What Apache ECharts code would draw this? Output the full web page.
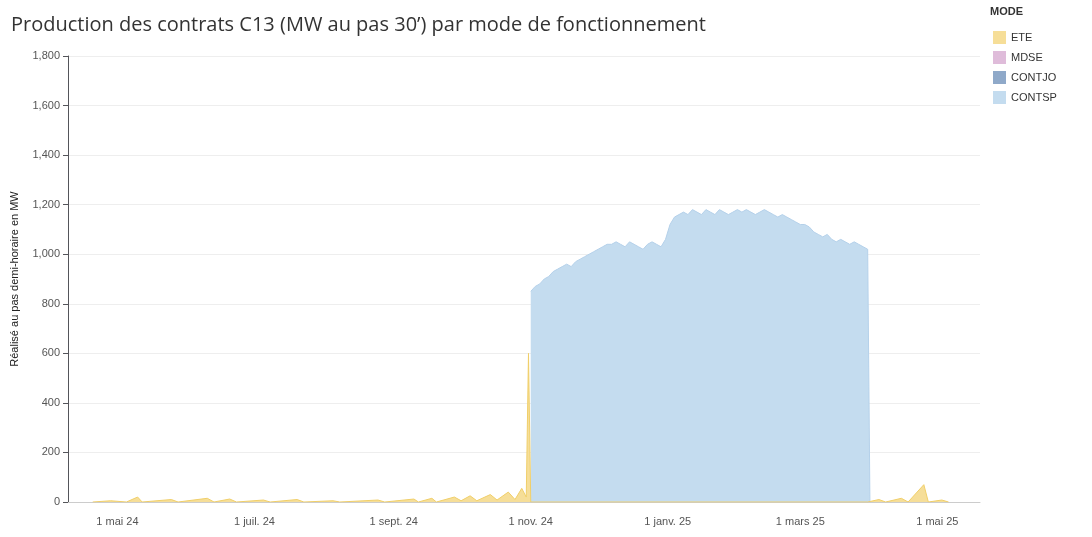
<!DOCTYPE html>
<html><head><meta charset="utf-8">
<script src="https://cdn.jsdelivr.net/npm/echarts@6/dist/echarts.min.js"></script>
<style>html,body{margin:0;background:#fff}#main{width:1092px;height:537px}</style>
</head><body><div id="main"></div>
<script>
// valeurs lues tous les 2 jours, du 1 nov. 24 au 31 mars 25
var startDay = '2024-11-01';
var contsp = [850,870,880,900,910,930,940,950,960,950,970,980,990,1000,1010,
  1020,1030,1040,1040,1050,1040,1030,1050,1040,1030,1020,1040,1050,1040,1030,1060,
  1120,1150,1160,1170,1160,1180,1170,1160,1180,1170,1160,1180,1170,1160,1170,1180,
  1170,1180,1170,1160,1170,1180,1170,1160,1150,1160,1150,1140,1130,1120,
  1120,1110,1090,1080,1070,1080,1060,1050,1060,1050,1040,1050,1040,1030,1020];
var contjo = [20,25,20,30,25,30,35,30,40,35,40,45,50,40,45,
  60,70,80,60,70,90,80,70,60,50,40,30,30,40,30,30,
  40,40,50,40,50,40,40,50,40,50,40,50,40,40,50,40,
  40,50,40,50,40,40,50,40,40,50,40,40,50,40,
  40,40,50,40,40,50,40,40,50,40,40,50,40,40,50];
var mdse = [40,50,45,60,50,60,55,60,70,60,70,75,80,70,70,
  80,90,80,100,90,80,190,650,620,70,60,40,30,40,30,50,
  60,70,60,80,70,80,70,60,80,70,60,70,80,70,60,70,
  60,70,60,80,70,60,70,60,70,60,70,60,70,60,
  60,70,60,70,60,70,60,70,60,70,60,70,60,70,60];
var ete = [['2024-04-20',0],['2024-04-28',5],['2024-05-05',0],['2024-05-10',20],['2024-05-12',0],
  ['2024-05-25',10],['2024-05-28',0],['2024-06-10',15],['2024-06-13',0],['2024-06-20',12],['2024-06-23',0],
  ['2024-07-05',8],['2024-07-08',0],['2024-07-20',10],['2024-07-23',0],['2024-08-05',5],['2024-08-08',0],
  ['2024-08-25',8],['2024-08-28',0],['2024-09-10',12],['2024-09-12',0],['2024-09-18',15],['2024-09-20',0],
  ['2024-09-28',20],['2024-10-01',5],['2024-10-05',25],['2024-10-08',5],['2024-10-14',30],['2024-10-17',8],
  ['2024-10-22',40],['2024-10-25',10],['2024-10-28',55],['2024-10-30',20],['2024-10-31',600],['2024-11-01',0],
  ['2025-03-31',0],['2025-04-05',10],['2025-04-08',0],['2025-04-15',15],['2025-04-18',0],
  ['2025-04-25',70],['2025-04-27',0],['2025-05-03',8],['2025-05-06',0]];
var tickDays = ['2024-05-01','2024-07-01','2024-09-01','2024-11-01','2025-01-01','2025-03-01','2025-05-01'];
var monthNames = ['janv.','févr.','mars','avr.','mai','juin','juil.','août','sept.','oct.','nov.','déc.'];

function ts(d){return new Date(d).getTime();}
var t0 = ts(startDay), DAY = 86400000;
function pairs(arr){
  var out = arr.map(function(v,i){return [t0 + i*2*DAY, v];});
  out.push([t0 + 151*DAY, 0]);
  return out;
}
var eteData = ete.map(function(p){return [ts(p[0]), p[1]];});
var tickTs = tickDays.map(ts);

var chart = echarts.init(document.getElementById('main'));
function area(name, data, color, line){
  return {name:name, type:'line', stack:'a', data:pairs(data), symbol:'none',
    lineStyle:{width:1, color:line}, itemStyle:{color:color},
    areaStyle:{color:color, opacity:1}};
}
chart.setOption({
  animation:false,
  title:{text:'Production des contrats C13 (MW au pas 30’) par mode de fonctionnement', left:6, top:10,
    textStyle:{fontSize:20, fontWeight:'normal', color:'#333', fontFamily:'Open Sans'}},
  legend:{orient:'vertical', left:988, top:26, itemWidth:13, itemHeight:13, icon:'rect', itemGap:7,
    data:['ETE','MDSE','CONTJO','CONTSP'], textStyle:{fontSize:11, color:'#333'}},
  graphic:[{type:'text', left:990, top:6, style:{text:'MODE', fontSize:11, fontWeight:'bold', fill:'#333'}}],
  grid:{left:68, right:112, top:56, bottom:35},
  xAxis:{type:'value', min:ts('2024-04-09'), max:ts('2025-05-20'),
    axisLine:{lineStyle:{color:'#ccc'}}, axisTick:{show:false}, splitLine:{show:false},
    axisLabel:{customValues:tickTs, color:'#555', fontSize:11, margin:14,
      formatter:function(v){var d=new Date(v);return '1 '+monthNames[d.getMonth()]+' '+String(d.getFullYear()).slice(2);}}},
  yAxis:{type:'value', min:0, max:1800, interval:200, name:'Réalisé au pas demi-horaire en MW',
    nameLocation:'middle', nameGap:48, nameTextStyle:{fontSize:11, color:'#222'},
    axisLabel:{color:'#555', fontSize:11}, splitLine:{lineStyle:{color:'#eee'}}},
  series:[
    area('CONTSP', contsp, '#c4dcef', '#b5d1ea'),
    area('CONTJO', contjo, '#8fa9c9', '#5f82ad'),
    area('MDSE', mdse, '#dfbcda', '#c59bc5'),
    {name:'ETE', type:'line', data:eteData, symbol:'none', lineStyle:{width:1,color:'#f0cf6a'},
     itemStyle:{color:'#f6de98'}, areaStyle:{color:'#f6de98', opacity:1}}
  ]
});
</script></body></html>
